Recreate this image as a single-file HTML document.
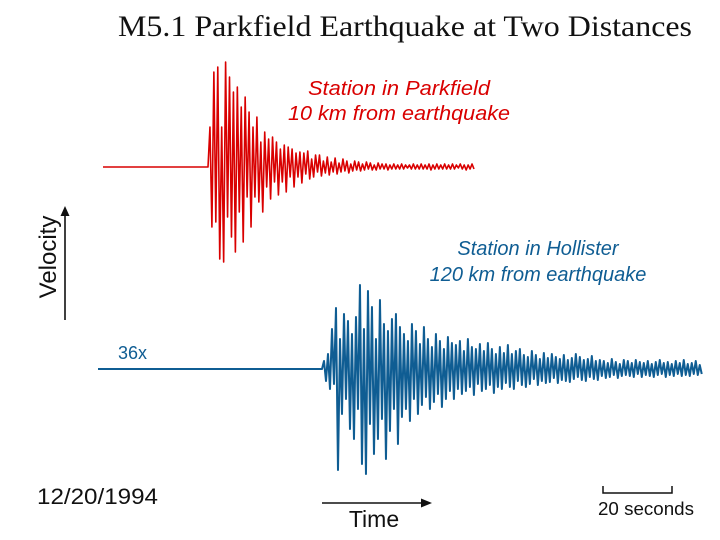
<!DOCTYPE html>
<html><head><meta charset="utf-8"><style>
html,body{margin:0;padding:0;background:#fff;}
svg{display:block;}
text{font-family:"Liberation Sans",sans-serif;}
</style></head><body>
<svg id="chart" width="720" height="540" viewBox="0 0 720 540">
<text x="118" y="36" font-size="30" textLength="574" lengthAdjust="spacingAndGlyphs" fill="#111" style="font-family:'Liberation Serif',serif">M5.1 Parkfield Earthquake at Two Distances</text>
<g fill="#d90000" font-style="italic" font-size="20">
<text x="308" y="95" textLength="182" lengthAdjust="spacingAndGlyphs">Station in Parkfield</text>
<text x="288" y="120" textLength="222" lengthAdjust="spacingAndGlyphs">10 km from earthquake</text>
</g>
<g fill="#0f5d93" font-style="italic" font-size="20">
<text x="538" y="255" text-anchor="middle">Station in Hollister</text>
<text x="538" y="281" text-anchor="middle">120 km from earthquake</text>
</g>
<text x="118" y="359" font-size="18" fill="#0f5d93">36x</text>
<text transform="translate(56,257) rotate(-90)" text-anchor="middle" font-size="24" fill="#111">Velocity</text>
<g>
<line x1="65" y1="320" x2="65" y2="214" stroke="#111" stroke-width="1.6"/>
<polygon points="65,206 60.5,216 69.5,216" fill="#111"/>
</g>
<text x="37" y="504" font-size="22" textLength="121" lengthAdjust="spacingAndGlyphs" fill="#111">12/20/1994</text>
<g>
<line x1="322" y1="503" x2="422" y2="503" stroke="#111" stroke-width="1.6"/>
<polygon points="432,503 421,498.5 421,507.5" fill="#111"/>
</g>
<text x="374" y="527" text-anchor="middle" font-size="23" fill="#111">Time</text>
<g>
<path d="M603,486 V493 H672 V486" fill="none" stroke="#111" stroke-width="1.5"/>
</g>
<text x="598" y="515" font-size="18" textLength="96" lengthAdjust="spacingAndGlyphs" fill="#111">20 seconds</text>
<path id="redTrace" fill="none" stroke="#d90000" stroke-width="1.6" stroke-linejoin="round"/>
<path id="blueTrace" fill="none" stroke="#0f5d93" stroke-width="2" stroke-linejoin="round"/>
</svg>
<script>
// time in seconds, velocity in arbitrary units
const redOnset = 30;
const redDuration = 76;
const redValues = [0,40,-60,95,-55,100,-92,40,-95,105,-50,90,-70,75,-85,80,-45,60,-75,70,-30,55,-60,40,-30,50,-35,25,-45,35,-20,28,-32,30,-15,25,-28,18,-15,22,-25,20,-10,18,-20,14,-10,15,-16,14,-7,16,-12,8,-10,12,-5,12,-9,6,-6,10,-8,5,-5,9,-7,4,-5,8,-4,6,-6,3,-4,6,-3,5,-4,3,-3,5,-2,4,-3,2,-3,4,-2,3,-2,3,-3,2,-2,3,-2,2,-2,3,-2,2,-1,2,-2,3,-2,2,-2,3,-2,2,-2,3,-3,2,-2,3,-2,2,-2,3,-2,2,-2,3,-2,2,-1,3,-2,2,-3,2,-2,3,-2];
const blueOnset = 64;
const blueDuration = 108.5;
const blueValues = [0,8,-12,15,-20,40,-15,61,-101,30,-45,55,
-30,48,-60,35,-70,52,-40,84,-95,40,-105,78,-55,62,-85,30,-70,69,-50,45,-90,38,-62,50,-40,55,-75,42,-48,
35,-40,28,-52,45,-30,38,-45,25,-36,42,-28,30,-40,22,-33,35,-25,28,-38,20,-30,32,-22,26,
-30,24,-20,28,-25,18,-22,30,-18,22,-26,20,-15,25,-22,18,-20,26,-16,20,-24,15,-18,22,-20,16,-14,24,-18,15,-20,18,-12,20,-16,
14,-18,12,-15,18,-10,14,-16,10,-12,16,-14,11,-13,15,-9,12,-14,10,-11,14,-12,9,-13,11,-10,15,-8,12,-11,9,-12,10,-8,13,-10,8,-11,9,-7,
8,-9,6,-8,10,-6,7,-9,5,-7,9,-6,8,-7,6,-8,9,-5,7,-8,6,-6,8,-7,5,-8,7,-6,9,-5,6,-8,7,-6,5,-7,8,-5,6,-7,9,-6,5,-7,6,-5,8,-6,4,-5];

const pxPerSec = 3.5;
function xRed(t){return 103 + t*pxPerSec;}
function yRed(v){return 167 - v;}
function xBlue(t){return 98 + t*pxPerSec;}
function yBlue(v){return 369 - v;}

function build(values, onset, duration, xf, yf){
  let d = 'M' + xf(0) + ',' + yf(0) + ' L' + xf(onset) + ',' + yf(0);
  const dt = duration/(values.length-1);
  values.forEach((v,i)=>{ d += ' L' + xf(onset + i*dt).toFixed(2) + ',' + yf(v).toFixed(2); });
  return d;
}
document.getElementById('redTrace').setAttribute('d', build(redValues, redOnset, redDuration, xRed, yRed));
document.getElementById('blueTrace').setAttribute('d', build(blueValues, blueOnset, blueDuration, xBlue, yBlue));
</script>
</body></html>
